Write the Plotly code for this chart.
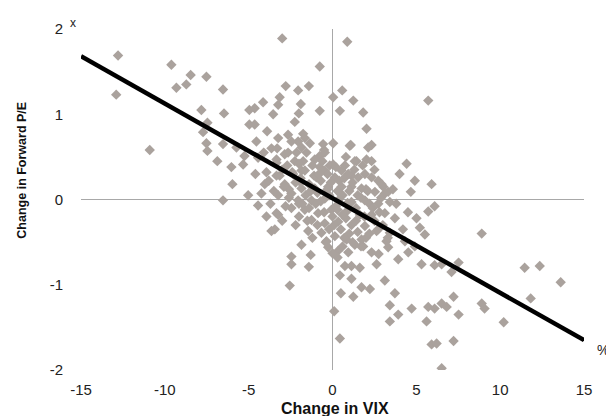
import plotly.graph_objects as go

# Scatter points: change in VIX (x, %) vs change in forward P/E (y, x)
vix_change = [
    -12.79, -12.9, -9.61, -8.46, -7.52, -9.31, -8.72, -6.53, -7.82, -6.47, -7.46, -7.72, -7.52, -7.46,
    -6.53, -10.9, -6.87, -6.03, -5.33, -5.73, -5.97, -6.53, -5.03, -4.96, -4.96, -5.25,
    -3.0, 0.88, -0.76, -2.79, -2.05, -1.41, 0.58, 0.04, 1.24, -3.15, -4.14, -4.64, -3.24, -3.54,
    -1.89, -2.01, -0.76, 0.44, 1.83, -2.25, 5.71, -4.64, -2.65, -1.75, 2.03, -4.54, -2.05, -1.35,
    0.04, 1.09, 2.33, -0.5, -3.64, -2.85, -2.15, -1.55, -0.76, -2.25, 1.43, 2.03, 4.42, -4.44,
    -3.34, -3.94, -3.15, -1.85, -0.76, -0.16, 0.54, 1.13, 1.93, 2.73, 3.03, 4.91, 5.91, 4.67,
    -4.24, -4.04, 3.12, 2.0,
    -4.44, -3.94, -3.24, -3.64, -1.45, -1.85, -2.45, -2.45, -1.3, -1.41, -2.55, -0.36, 0.34, 0.3,
    0.74, 1.13, 1.63, 0.44, 1.13, 1.73, 2.23, 0.5, 1.24, 0.1, 0.44, 2.63, 2.75, 3.12, 3.72, 3.42,
    3.92, 3.42, 4.72, 5.61, 5.71, 5.91, 3.92, 4.52, 5.31, 5.51, 5.71, 5.01, 5.21, 4.32, 4.91,
    2.63, 2.33, 1.83, 0.0, 3.22, 1.33,
    8.9, 11.46, 12.36, 13.61, 11.82, 8.9, 9.07, 10.21, 7.52, 7.1, 6.09, 6.51, 7.22, 6.51, 6.81,
    6.09, 7.52, 6.21, 7.22, 6.51, 6.09,
    -3.24, -2.45, -1.65, -1.85, -2.65, -0.56, -0.46, 1.03, 2.13, 2.33, 1.33, 0.74, 0.04, -1.06,
    -1.75, -3.34, -3.34, -2.85, -2.35, -1.65, -0.96, -0.46, 0.14, 0.94, 1.53, 2.33, 2.93, 3.32,
    2.53, 1.73, 1.13, 0.54, -0.26, -1.06, -1.85, -2.45, -3.24, -2.05, -1.25, -0.46, 0.34, 1.13,
    1.93, 2.73, 3.42, -3.34, -2.45, -1.65, -0.86, -0.06, 0.84, 1.63, 2.33, 3.12, 3.72, -1.25,
    -0.46, 0.34, 1.13, 1.93, 2.73, 3.42, -3.44, -0.66, 0.14, 0.84, 1.73, -0.26, 0.94, 3.32,
    -3.8, -3.5, -3.0, -2.7, -2.6, -2.2, -2.0, -1.9, -1.6, -1.4, -1.2, -1.1, -0.9, -0.7, -0.6,
    -0.3, -0.2, 0.2, 0.4, 0.6, 0.8, 1.0, 1.3, 1.5, 1.8, 2.1, 2.5, 2.9, 3.6, 4.0,
    -3.7, -3.0, -2.8, -2.2, -2.0, -1.8, -1.5, -1.0, -0.9, -0.5, -0.2, 0.0, 0.2, 0.5, 0.6,
    0.9, 1.0, 1.4, 1.5, 2.0, 2.2, 2.5, 3.0, 3.3, 3.8, 4.2, 4.5, -1.2, -0.4, 0.6,
    -2.9, -2.4, -1.9, -1.3, -0.8, -0.1, 0.3, 0.7, 1.2, 1.7, -2.6, -2.0, -1.4, -0.7, -0.3,
    0.3, 0.8, 1.4, 1.9, 2.4, 0.1, 0.7, 1.2, 1.7, 2.2, 2.8, -3.3, -4.1, -3.9, -4.6,
]
pe_change = [
    1.69, 1.23, 1.58, 1.46, 1.44, 1.31, 1.35, 1.29, 1.05, 1.01, 0.90, 0.79, 0.66, 0.57,
    0.65, 0.58, 0.45, 0.38, 0.41, 0.61, 0.18, -0.01, 0.05, 1.05, 0.88, 0.51,
    1.89, 1.85, 1.56, 1.33, 1.28, 1.33, 1.28, 1.20, 1.16, 1.20, 1.14, 1.07, 1.11, 1.0,
    1.12, 1.01, 1.04, 1.04, 1.02, 0.91, 1.16, 0.88, 0.76, 0.77, 0.83, 0.68, 0.68, 0.66,
    0.66, 0.64, 0.64, 0.58, 0.60, 0.53, 0.55, 0.55, 0.51, 0.45, 0.45, 0.47, 0.42, 0.49,
    0.43, 0.32, 0.28, 0.34, 0.38, 0.40, 0.34, 0.28, 0.30, 0.22, 0.15, 0.22, 0.18, 0.09,
    0.07, 0.18, 0.07, 0.12,
    -0.07, -0.20, -0.18, -0.37, -0.37, -0.53, -0.67, -0.76, -0.65, -0.79, -1.01, -0.49, -0.60, -0.68,
    -0.78, -0.78, -0.80, -0.89, -0.93, -1.03, -1.05, -1.10, -1.14, -1.31, -1.63, -0.76, -0.64, -0.95,
    -1.10, -1.24, -1.35, -1.43, -1.28, -1.43, -1.26, -1.70, -0.70, -0.62, -0.76, -0.41, -0.14, -0.22,
    -0.33, -0.49, -0.55, -0.37, -0.62, -0.55, -0.63, -0.49, -0.53,
    -0.40, -0.80, -0.78, -0.97, -1.16, -1.22, -1.28, -1.44, -0.74, -0.85, -0.77, -0.76, -1.14, -1.22,
    -1.26, -1.28, -1.35, -1.69, -1.66, -1.98, -0.08,
    0.72, 0.68, 0.72, 0.61, 0.55, 0.65, 0.55, 0.63, 0.61, 0.45, 0.45, 0.40, 0.41, 0.47,
    0.45, 0.47, 0.28, 0.18, 0.30, 0.34, 0.26, 0.34, 0.26, 0.30, 0.26, 0.26, 0.18, 0.09,
    0.09, 0.13, 0.15, 0.15, 0.15, 0.13, 0.13, 0.07, 0.05, -0.01, -0.01, 0.01, -0.01, -0.03,
    -0.01, -0.05, -0.03, -0.16, -0.10, -0.12, -0.16, -0.12, -0.14, -0.18, -0.18, -0.16, -0.22, -0.24,
    -0.28, -0.26, -0.30, -0.31, -0.35, -0.39, -0.35, -0.39, -0.43, -0.47, -0.47, -0.56, -0.62, -0.56,
    0.22, 0.10, 0.35, 0.40, 0.12, 0.20, 0.42, 0.25, 0.05, 0.18, 0.40, 0.28, 0.08, 0.22, 0.45,
    0.30, 0.05, 0.38, 0.22, 0.05, 0.50, 0.10, 0.35, 0.05, 0.40, 0.10, 0.35, 0.02, 0.12, 0.30,
    -0.05, -0.25, -0.08, -0.30, -0.20, -0.05, -0.25, -0.05, -0.30, -0.15, -0.35, -0.20, -0.08, -0.35, -0.18,
    -0.04, -0.40, -0.10, -0.38, -0.45, -0.05, -0.25, -0.30, -0.45, -0.05, -0.35, -0.15, -0.45, -0.50, -0.55,
    0.15, 0.32, 0.20, 0.10, 0.30, 0.20, 0.10, 0.25, 0.20, 0.02, 0.02, -0.05, -0.10, -0.02, 0.12,
    -0.12, -0.22, -0.25, -0.20, -0.10, -0.30, -0.45, -0.50, -0.55, -0.40, -0.15, 0.60, 0.55, 0.80, 0.30,
]

# Fitted regression line end points
fit_x = [-15, 15]
fit_y = [1.68, -1.65]

x_ticks = [-15, -10, -5, 0, 5, 10, 15]
y_ticks = [-2, -1, 0, 1, 2]

fig = go.Figure()
fig.add_trace(go.Scatter(
    x=vix_change, y=pe_change, mode="markers",
    marker=dict(symbol="diamond", size=8, color="#AAA29D", line=dict(width=0)),
    hoverinfo="skip", showlegend=False,
))
fig.add_trace(go.Scatter(
    x=fit_x, y=fit_y, mode="lines",
    line=dict(color="#000000", width=4.5),
    hoverinfo="skip", showlegend=False,
))

tick_font = dict(family="Liberation Sans, Arial, sans-serif", size=15, color="#222222")

fig.update_layout(
    width=606, height=408,
    margin=dict(l=73, r=30, t=15, b=46),
    paper_bgcolor="white", plot_bgcolor="white",
    font=dict(family="Liberation Sans, Arial, sans-serif", color="#222222"),
    xaxis=dict(
        range=[-15, 15], tickvals=x_ticks, ticktext=[str(v) for v in x_ticks],
        showgrid=False, showline=False, zeroline=True, zerolinecolor="#A8A8A8", zerolinewidth=1,
        ticks="", tickfont=tick_font, ticklabelstandoff=9,
    ),
    yaxis=dict(
        range=[-2, 2], tickvals=y_ticks, ticktext=[str(v) for v in y_ticks],
        showgrid=False, showline=False, zeroline=True, zerolinecolor="#A8A8A8", zerolinewidth=1,
        ticks="", tickfont=tick_font, ticklabelstandoff=17,
    ),
    annotations=[
        dict(text="x", xref="paper", yref="paper", x=-0.016, y=1.017, showarrow=False,
             font=dict(size=12, color="#222222"), xanchor="center", yanchor="middle"),
        dict(text="%", xref="paper", yref="paper", x=1.038, y=0.058, showarrow=False,
             font=dict(size=14, color="#222222"), xanchor="center", yanchor="middle"),
        dict(text="<b>Change in VIX</b>", xref="paper", yref="paper", x=0.505, y=-0.112,
             showarrow=False, font=dict(size=16, color="#111111"), xanchor="center", yanchor="middle"),
        dict(text="<b>Change in Forward P/E</b>", xref="paper", yref="paper", x=-0.119, y=0.585,
             showarrow=False, textangle=-90, font=dict(size=12.5, color="#111111"),
             xanchor="center", yanchor="middle"),
    ],
)

fig.write_html("out.html")
